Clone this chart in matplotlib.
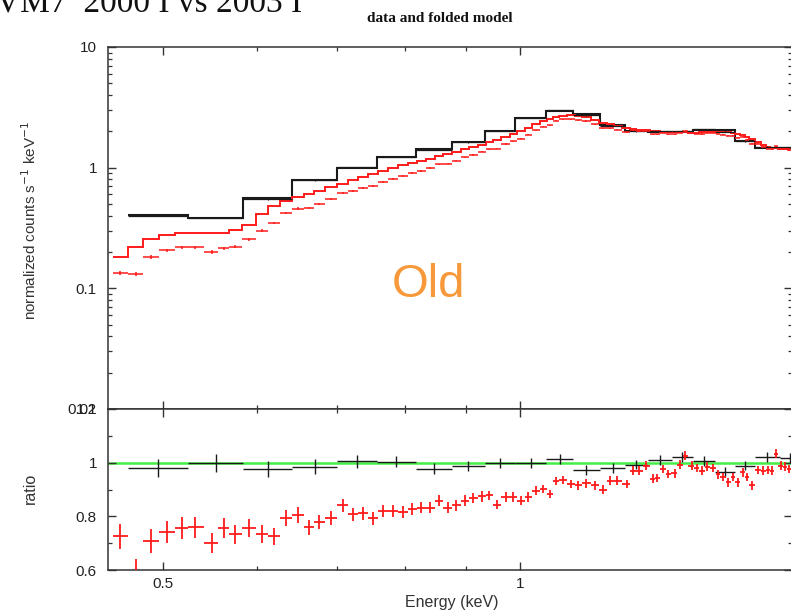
import numpy as np
import matplotlib
matplotlib.use("Agg")
import matplotlib.pyplot as plt
from matplotlib.ticker import FixedLocator, NullFormatter, FixedFormatter, LogLocator

# ---------------- data ----------------
# 2003 (red) spectrum: bin centres (keV), folded model, data/model ratio, ratio error
red_energy = [0.460, 0.474, 0.488, 0.504, 0.518, 0.532, 0.550, 0.562, 0.575, 0.591,
              0.606, 0.620, 0.635, 0.650, 0.664, 0.677, 0.693, 0.709, 0.723, 0.737,
              0.752, 0.766, 0.781, 0.797, 0.811, 0.825, 0.840, 0.854, 0.869, 0.883,
              0.899, 0.913, 0.929, 0.942, 0.956, 0.973, 0.987, 1.002, 1.016, 1.032,
              1.046, 1.060, 1.072, 1.087, 1.104, 1.119, 1.137, 1.157, 1.175, 1.191,
              1.207, 1.231, 1.245, 1.260, 1.277, 1.295, 1.305, 1.320, 1.333, 1.351,
              1.364, 1.378, 1.396, 1.410, 1.424, 1.438, 1.455, 1.469, 1.483, 1.498,
              1.512, 1.527, 1.542, 1.554, 1.569, 1.588, 1.603, 1.619, 1.631, 1.644,
              1.660, 1.673, 1.686]
red_model = [0.183, 0.221, 0.257, 0.279, 0.290, 0.288, 0.287, 0.285, 0.303, 0.338,
             0.410, 0.480, 0.530, 0.570, 0.610, 0.640, 0.690, 0.735, 0.790, 0.840,
             0.890, 0.930, 0.990, 1.050, 1.090, 1.130, 1.190, 1.240, 1.300, 1.360,
             1.420, 1.470, 1.550, 1.620, 1.700, 1.800, 1.900, 2.020, 2.150, 2.280,
             2.420, 2.540, 2.620, 2.700, 2.740, 2.700, 2.640, 2.500, 2.360, 2.280,
             2.210, 2.130, 2.100, 2.070, 2.040, 2.010, 2.000, 1.990, 1.980, 1.970,
             1.960, 1.960, 1.950, 1.950, 1.960, 1.970, 1.980, 1.990, 1.990, 1.980,
             1.950, 1.910, 1.870, 1.800, 1.720, 1.620, 1.530, 1.480, 1.460, 1.450,
             1.440, 1.440, 1.430]
red_ratio = [0.726, 0.595, 0.707, 0.741, 0.756, 0.759, 0.700, 0.756, 0.733, 0.756,
             0.733, 0.726, 0.793, 0.804, 0.759, 0.778, 0.793, 0.841, 0.807, 0.811,
             0.793, 0.819, 0.819, 0.816, 0.828, 0.832, 0.832, 0.859, 0.832, 0.841,
             0.859, 0.869, 0.874, 0.878, 0.844, 0.872, 0.872, 0.859, 0.872, 0.896,
             0.902, 0.884, 0.931, 0.936, 0.921, 0.915, 0.923, 0.915, 0.899, 0.933,
             0.933, 0.921, 0.970, 0.970, 0.989, 0.940, 0.943, 0.977, 0.958, 0.960,
             0.993, 1.026, 0.989, 0.980, 0.970, 0.985, 0.980, 0.956, 0.946, 0.927,
             0.946, 0.927, 0.964, 0.946, 0.915, 0.973, 0.970, 0.973, 0.970, 1.034,
             0.989, 0.985, 0.977]
red_err = [0.046, 0.046, 0.044, 0.042, 0.040, 0.040, 0.038, 0.036, 0.035, 0.034,
           0.033, 0.032, 0.030, 0.029, 0.028, 0.027, 0.026, 0.025, 0.025, 0.024,
           0.024, 0.023, 0.023, 0.022, 0.022, 0.021, 0.021, 0.020, 0.020, 0.020,
           0.019, 0.019, 0.019, 0.018, 0.018, 0.018, 0.017, 0.017, 0.017, 0.017,
           0.016, 0.016, 0.016, 0.016, 0.016, 0.016, 0.016, 0.016, 0.016, 0.016,
           0.016, 0.016, 0.016, 0.016, 0.016, 0.016, 0.016, 0.016, 0.016, 0.016,
           0.016, 0.016, 0.016, 0.016, 0.016, 0.016, 0.016, 0.016, 0.016, 0.016,
           0.016, 0.016, 0.016, 0.016, 0.016, 0.016, 0.016, 0.016, 0.016, 0.016,
           0.016, 0.016, 0.016]

# 2000 (black) spectrum: bin edges (keV), folded model, ratio, ratio error
black_edges = [0.467, 0.525, 0.584, 0.642, 0.701, 0.757, 0.817, 0.876, 0.934, 0.990,
               1.052, 1.108, 1.168, 1.226, 1.282, 1.343, 1.399, 1.460, 1.518, 1.578,
               1.657, 1.722]
black_model = [0.409, 0.386, 0.565, 0.796, 1.000, 1.230, 1.436, 1.640, 2.020, 2.590,
               2.960, 2.790, 2.270, 2.020, 1.980, 1.980, 2.060, 2.060, 1.670, 1.460,
               1.450]
black_ratio = [0.981, 1.000, 0.978, 0.985, 1.005, 1.004, 0.978, 0.989, 0.998, 0.998,
               1.014, 0.973, 0.979, 0.993, 1.010, 1.020, 1.006, 0.966, 0.989, 1.020,
               1.018]
black_err = [0.033, 0.033, 0.030, 0.028, 0.025, 0.022, 0.020, 0.019, 0.018, 0.018,
             0.018, 0.018, 0.018, 0.018, 0.018, 0.018, 0.018, 0.018, 0.018, 0.018,
             0.018]

x_ticks = [0.5, 1]
x_ticklabels = ["0.5", "1"]
y1_ticks = [0.01, 0.1, 1, 10]
y1_ticklabels = ["0.01", "0.1", "1", "10"]
y2_ticks = [0.6, 0.8, 1.0, 1.2]
y2_ticklabels = ["0.6", "0.8", "1", "1.2"]
y2_minor = [0.7, 0.9, 1.1]

# ---------------- derived arrays ----------------
re = np.array(red_energy)
mids = np.sqrt(re[:-1] * re[1:])
red_edges = np.concatenate([[re[0] ** 2 / mids[0]], mids, [re[-1] ** 2 / mids[-1]]])
rm = np.array(red_model)
rr = np.array(red_ratio)
rerr = np.array(red_err)
red_counts = rm * rr
red_counts_err = red_counts * rerr / rr
red_xerr = [re - red_edges[:-1], red_edges[1:] - re]

be = np.array(black_edges)
bc = np.sqrt(be[:-1] * be[1:])
bm = np.array(black_model)
br = np.array(black_ratio)
berr = np.array(black_err)
black_counts = bm * br
black_xerr = [bc - be[:-1], be[1:] - bc]

# ---------------- figure ----------------
W, H = 791, 613
fig = plt.figure(figsize=(W / 100, H / 100), dpi=100)
plt.rcParams['font.family'] = ['Liberation Sans', 'DejaVu Sans']

left, right = 108, 792
ax1 = fig.add_axes([left / W, (H - 409) / H, (right - left) / W, (409 - 47) / H])
ax2 = fig.add_axes([left / W, (H - 570) / H, (right - left) / W, (570 - 409) / H])

xlim = (0.449, 1.696)
red = '#ff1a1a'
blk = '#1a1a1a'

# upper panel
ax1.stairs(bm, be, color=blk, lw=1.5, baseline=None)
ax1.errorbar(bc, black_counts, xerr=black_xerr, yerr=black_counts * berr * 0.5,
             fmt='none', ecolor=blk, elinewidth=0.9)
ax1.stairs(rm, red_edges, color=red, lw=1.4, baseline=None)
ax1.errorbar(re, red_counts, xerr=red_xerr, yerr=red_counts_err * 0.6,
             fmt='none', ecolor=red, elinewidth=1.1)

ax1.set_xscale('log')
ax1.set_yscale('log')
ax1.set_xlim(*xlim)
ax1.set_ylim(0.01, 10)

# lower panel
ax2.axhline(1.0, color='#44ee44', lw=1.8, zorder=1)
ax2.errorbar(bc, br, xerr=black_xerr, yerr=berr, fmt='none', ecolor=blk,
             elinewidth=1.0, zorder=3)
ax2.errorbar(re, rr, xerr=red_xerr, yerr=rerr, fmt='none', ecolor=red,
             elinewidth=1.3, zorder=4)
ax2.set_xscale('log')
ax2.set_xlim(*xlim)
ax2.set_ylim(0.6, 1.2)

tick_color = '#222222'
for ax in (ax1, ax2):
    for s in ax.spines.values():
        s.set_linewidth(1.1)
        s.set_color('#333333')
    ax.xaxis.set_major_locator(FixedLocator(x_ticks))
    ax.xaxis.set_minor_locator(LogLocator(base=10, subs=np.arange(2, 10)))
    ax.xaxis.set_minor_formatter(NullFormatter())
    ax.tick_params(which='both', direction='in', top=True, right=True,
                   colors='#333333', labelcolor=tick_color, labelsize=11)
    ax.tick_params(which='major', length=6, width=1.0)
    ax.tick_params(which='minor', length=3, width=0.9)
    ax.tick_params(axis='y', which='both', pad=8)

ax1.xaxis.set_major_formatter(NullFormatter())
ax1.yaxis.set_major_locator(FixedLocator(y1_ticks))
ax1.yaxis.set_major_formatter(FixedFormatter(y1_ticklabels))
ax1.yaxis.set_minor_locator(LogLocator(base=10, subs=np.arange(2, 10)))
ax1.yaxis.set_minor_formatter(NullFormatter())

ax2.xaxis.set_major_formatter(FixedFormatter(x_ticklabels))
ax2.yaxis.set_major_locator(FixedLocator(y2_ticks))
ax2.yaxis.set_major_formatter(FixedFormatter(y2_ticklabels))
ax2.yaxis.set_minor_locator(FixedLocator(y2_minor))
ax2.tick_params(axis='x', which='major', pad=5)

# labels
fig.text(30 / W, 1 - 220 / H, r"normalized counts s$^{-1}$ keV$^{-1}$", rotation=90,
         ha='center', va='center', fontsize=11, color='#333333')
fig.text(30 / W, 1 - 488 / H, "ratio", rotation=90, ha='center', va='center',
         fontsize=11.5, color='#333333')
fig.text(452 / W, 1 - 602 / H, "Energy (keV)", ha='center', va='center',
         fontsize=11.5, color='#333333')
fig.text(440 / W, 1 - 19 / H, "data and folded model", ha='center', va='center',
         fontsize=11, fontweight='bold', family=['Liberation Serif', 'DejaVu Serif'],
         color='#111111')
fig.text(-4 / W, 1 - 12 / H, "VM7  2000 I vs 2003 I", ha='left', va='baseline',
         fontsize=24, family=['Liberation Serif', 'DejaVu Serif'], color='#111111')
fig.text(392 / W, 1 - 297 / H, "Old", ha='left', va='baseline', fontsize=34,
         color='#f7993a')

fig.savefig("out.png", dpi=100)
